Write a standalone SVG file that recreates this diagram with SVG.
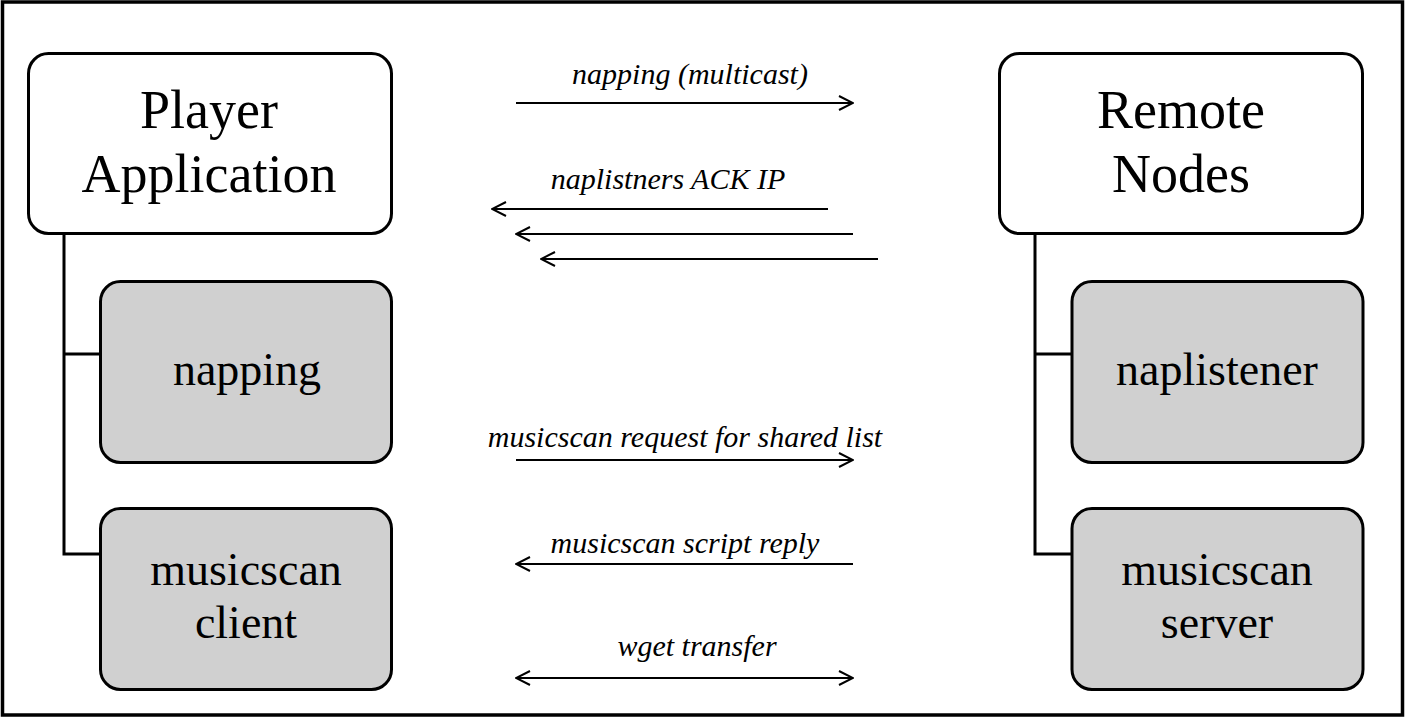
<svg xmlns="http://www.w3.org/2000/svg" width="1406" height="719" viewBox="0 0 1406 719">
<defs>
<style>
.frame{fill:#fff;stroke:#000;stroke-width:3.5}
.main{fill:#fff;stroke:#000;stroke-width:3}
.sub{fill:#d0d0d0;stroke:#000;stroke-width:3}
.tree{fill:none;stroke:#000;stroke-width:3}
.title{font-family:"Liberation Serif",serif;font-size:54px;text-anchor:middle;fill:#000}
.lbl{font-family:"Liberation Serif",serif;font-size:46px;text-anchor:middle;fill:#000}
.msg{font-family:"Liberation Serif",serif;font-size:30px;font-style:italic;text-anchor:middle;fill:#000}
.arr{fill:none;stroke:#000;stroke-width:2}
</style>
<marker id="head" viewBox="0 0 16 16" refX="15" refY="8" markerWidth="16" markerHeight="16" markerUnits="userSpaceOnUse" orient="auto-start-reverse">
<path d="M1,1 L15,8 L1,15" fill="none" stroke="#000" stroke-width="2"/>
</marker>
</defs>
<rect class="frame" x="2.5" y="2" width="1400" height="713"/>
<g id="connectors">
<path class="tree" d="M64,234 V554 H100 M64,354 H100"/>
<path class="tree" d="M1035,234 V554 H1072 M1035,354 H1072"/>
<line class="arr" x1="516" y1="103" x2="853" y2="103" marker-end="url(#head)"/>
<line class="arr" x1="828" y1="209" x2="492" y2="209" marker-end="url(#head)"/>
<line class="arr" x1="853" y1="234" x2="516" y2="234" marker-end="url(#head)"/>
<line class="arr" x1="878" y1="259" x2="541" y2="259" marker-end="url(#head)"/>
<line class="arr" x1="516" y1="460" x2="853" y2="460" marker-end="url(#head)"/>
<line class="arr" x1="853" y1="564" x2="516" y2="564" marker-end="url(#head)"/>
<line class="arr" x1="516" y1="678" x2="853" y2="678" marker-start="url(#head)" marker-end="url(#head)"/>
<text class="msg" x="690" y="84">napping (multicast)</text>
<text class="msg" x="668" y="189">naplistners ACK IP</text>
<text class="msg" x="685" y="447">musicscan request for shared list</text>
<text class="msg" x="685" y="553">musicscan script reply</text>
<text class="msg" x="697" y="656">wget transfer</text>
</g>
<g id="player-application">
<rect class="main" x="28.5" y="53.5" width="363" height="180" rx="20"/>
<text class="title" x="209" y="128">Player</text>
<text class="title" x="209" y="192">Application</text>
</g>
<g id="napping">
<rect class="sub" x="100.5" y="281.5" width="291" height="181" rx="20"/>
<text class="lbl" x="247" y="385">napping</text>
</g>
<g id="musicscan-client">
<rect class="sub" x="100.5" y="508.5" width="291" height="181" rx="20"/>
<text class="lbl" x="246" y="585">musicscan</text>
<text class="lbl" x="246" y="638">client</text>
</g>
<g id="remote-nodes">
<rect class="main" x="999.5" y="53.5" width="363" height="180" rx="20"/>
<text class="title" x="1181" y="128">Remote</text>
<text class="title" x="1181" y="192">Nodes</text>
</g>
<g id="naplistener">
<rect class="sub" x="1072" y="281.5" width="291" height="181" rx="20"/>
<text class="lbl" x="1217" y="385">naplistener</text>
</g>
<g id="musicscan-server">
<rect class="sub" x="1072" y="508.5" width="291" height="181" rx="20"/>
<text class="lbl" x="1217" y="585">musicscan</text>
<text class="lbl" x="1217" y="638">server</text>
</g>
</svg>
